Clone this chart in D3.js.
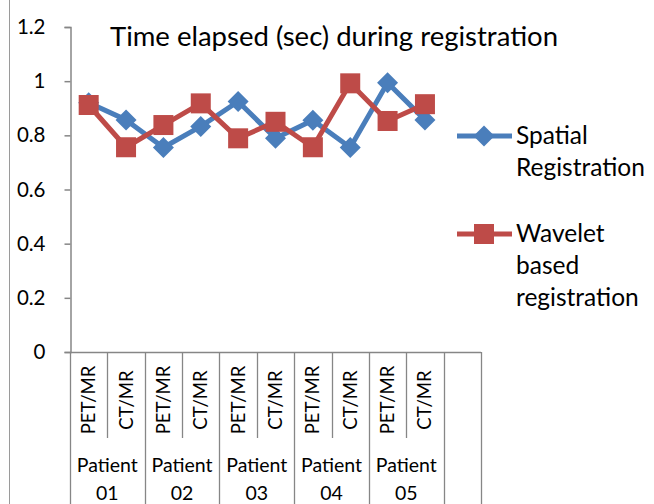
<!DOCTYPE html>
<html>
<head>
  <meta charset="utf-8" />
  <title>Time elapsed during registration</title>
  <script src="https://d3js.org/d3.v7.min.js"></script>
  <style>
    body { margin: 0; padding: 0; background: #fff; }
    svg { display: block; font-family: Lato, "Open Sans", sans-serif; }
  </style>
</head>
<body>
  <svg width="654" height="504"></svg>

  <script>
    // data
    const patients = ["01", "02", "03", "04", "05"];
    const modalities = ["PET/MR", "CT/MR"];
    const spatial = [0.92, 0.857, 0.755, 0.833, 0.925, 0.789, 0.856, 0.755, 0.994, 0.857];
    const wavelet = [0.912, 0.756, 0.838, 0.918, 0.789, 0.850, 0.756, 0.992, 0.853, 0.915];
    const yTicks = [0, 0.2, 0.4, 0.6, 0.8, 1, 1.2];
    const yTickLabels = ["0", "0.2", "0.4", "0.6", "0.8", "1", "1.2"];

    const svg = d3.select("svg");
    const axisColor = "#868686";

    // 10 real categories plus one empty slot at the end (as in the original)
    const cats = [];
    patients.forEach(p => modalities.forEach(m => cats.push(p + "|" + m)));
    const allCats = cats.concat(["_empty"]);

    const x = d3.scaleBand().domain(allCats).range([70, 481]).padding(0);
    const y = d3.scaleLinear().domain([0, 1.2]).range([352, 27]);

    // left border line of the picture
    svg.append("line")
      .attr("x1", 9.5).attr("x2", 9.5).attr("y1", 0).attr("y2", 504)
      .attr("stroke", "#9a9a9a").attr("stroke-width", 1);

    // title
    svg.append("text")
      .attr("x", 334).attr("y", 46)
      .attr("text-anchor", "middle")
      .attr("font-size", 27.5)
      .attr("fill", "#000")
      .text("Time elapsed (sec) during registration");

    // y axis
    const yAxis = d3.axisLeft(y)
      .tickValues(yTicks)
      .tickFormat((d, i) => yTickLabels[i])
      .tickSize(6)
      .tickPadding(19);

    const yg = svg.append("g").attr("transform", "translate(70.5,0)").call(yAxis);
    yg.select(".domain").attr("stroke", axisColor).attr("stroke-width", 1.5);
    yg.selectAll(".tick line").attr("stroke", axisColor).attr("stroke-width", 1.5);
    yg.selectAll(".tick text")
      .attr("font-size", 20.5)
      .attr("fill", "#000")
      .attr("font-family", "Lato, 'Open Sans', sans-serif");

    // x axis line
    svg.append("line")
      .attr("x1", x.range()[0]).attr("x2", x.range()[1])
      .attr("y1", y(0) + 0.5).attr("y2", y(0) + 0.5)
      .attr("stroke", axisColor).attr("stroke-width", 1.5);

    // category dividers: short between modalities, long between patients
    const bounds = allCats.map(c => x(c)).concat([x.range()[1]]);
    bounds.forEach((bx, i) => {
      const isPatientEdge = i % 2 === 0 || i === bounds.length - 1;
      svg.append("line")
        .attr("x1", Math.round(bx) + 0.5).attr("x2", Math.round(bx) + 0.5)
        .attr("y1", y(0)).attr("y2", isPatientEdge ? 504 : 438)
        .attr("stroke", axisColor).attr("stroke-width", 1.3);
    });

    // rotated modality labels
    svg.append("g").selectAll("text")
      .data(cats)
      .join("text")
      .attr("transform", d => `translate(${x(d) + x.bandwidth() / 2 + 6.5},400) rotate(-90)`)
      .attr("text-anchor", "middle")
      .attr("font-size", 18.5)
      .attr("fill", "#000")
      .text(d => d.split("|")[1]);

    // patient labels (two lines)
    const pg = svg.append("g").selectAll("text")
      .data(patients)
      .join("text")
      .attr("text-anchor", "middle")
      .attr("font-size", 19.5)
      .attr("fill", "#000");
    pg.append("tspan")
      .attr("x", p => x(p + "|PET/MR") + x.bandwidth())
      .attr("y", 472)
      .text("Patient");
    pg.append("tspan")
      .attr("x", p => x(p + "|PET/MR") + x.bandwidth())
      .attr("y", 500)
      .text(p => p);

    // series
    const series = [
      { name: ["Spatial", "Registration"], values: spatial, color: "#4A7EBB", marker: "diamond" },
      { name: ["Wavelet", "based", "registration"], values: wavelet, color: "#BE4B48", marker: "square" }
    ];

    const line = d3.line()
      .x((d, i) => x(cats[i]) + x.bandwidth() / 2)
      .y(d => y(d));

    function drawMarker(g, type, color) {
      if (type === "diamond") {
        g.append("path")
          .attr("d", "M0,-10.5L10.5,0L0,10.5L-10.5,0Z")
          .attr("fill", color);
      } else {
        g.append("rect")
          .attr("x", -10).attr("y", -10)
          .attr("width", 20).attr("height", 20)
          .attr("fill", color);
      }
    }

    series.forEach(s => {
      svg.append("path")
        .datum(s.values)
        .attr("d", line)
        .attr("fill", "none")
        .attr("stroke", s.color)
        .attr("stroke-width", 5)
        .attr("stroke-linejoin", "round");

      s.values.forEach((v, i) => {
        const g = svg.append("g")
          .attr("transform", `translate(${x(cats[i]) + x.bandwidth() / 2},${y(v)})`);
        drawMarker(g, s.marker, s.color);
      });
    });

    // legend
    const legendY = [136, 234];
    series.forEach((s, k) => {
      const ly = legendY[k];
      svg.append("line")
        .attr("x1", 457).attr("x2", 512)
        .attr("y1", ly).attr("y2", ly)
        .attr("stroke", s.color).attr("stroke-width", 5);
      const g = svg.append("g").attr("transform", `translate(484,${ly})`);
      drawMarker(g, s.marker, s.color);
      const t = svg.append("text")
        .attr("font-size", 24.5)
        .attr("fill", "#000");
      s.name.forEach((w, j) => {
        t.append("tspan")
          .attr("x", 516)
          .attr("y", ly + 8 + j * 32)
          .text(w);
      });
    });
  </script>
</body>
</html>
